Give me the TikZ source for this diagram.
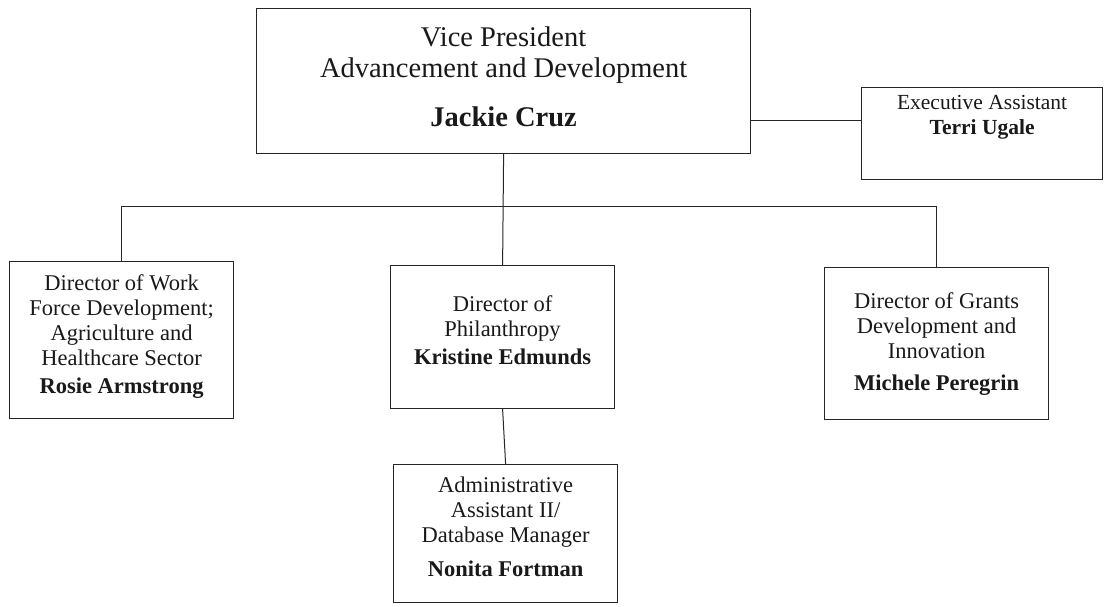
\documentclass[tikz,border=0pt]{standalone}
\usepackage{fontspec}
\setmainfont{Liberation Serif}
\begin{document}
\begin{tikzpicture}[x=1pt,y=-1pt,
  box/.style={draw=black!85, line width=1.2pt, inner sep=0pt, anchor=north west},
  txt/.style={align=center, inner sep=0pt, anchor=north, text=black!90, font=\fontsize{22.5}{25}\selectfont},
  bigtxt/.style={align=center, inner sep=0pt, anchor=north, text=black!90, font=\fontsize{28.5}{31}\selectfont},
  link/.style={draw=black!85, line width=1pt}]
\useasboundingbox (0,0) rectangle (1106,606);
% boxes
\node[box, minimum width=494pt, minimum height=145pt] (vp) at (256,8) {};
\node[box, minimum width=241pt, minimum height=92pt] (ea) at (861,87) {};
\node[box, minimum width=224pt, minimum height=157pt] (ros) at (9,261) {};
\node[box, minimum width=224pt, minimum height=143pt] (kri) at (390,265) {};
\node[box, minimum width=224pt, minimum height=152pt] (mic) at (824,267) {};
\node[box, minimum width=224pt, minimum height=138pt] (non) at (393,464) {};
% texts
\node[bigtxt] (vpt) at ([yshift=-19pt]vp.north) {Vice President\\Advancement and Development\\[18pt]\textbf{Jackie Cruz}};
\node[txt, font=\fontsize{21.5}{25}\selectfont] (eat) at ([yshift=-8pt]ea.north) {Executive Assistant\\\textbf{Terri Ugale}};
\node[txt] (rost) at ([yshift=-13pt]ros.north) {Director of Work\\Force Development;\\Agriculture and\\Healthcare Sector\\[3pt]\textbf{Rosie Armstrong}};
\node[txt] (krit) at ([yshift=-30pt]kri.north) {Director of\\Philanthropy\\[3pt]\textbf{Kristine Edmunds}};
\node[txt] (mict) at ([yshift=-25pt]mic.north) {Director of Grants\\Development and\\Innovation\\[7pt]\textbf{Michele Peregrin}};
\node[txt] (nont) at ([yshift=-13pt]non.north) {Administrative\\Assistant II/\\Database Manager\\[9pt]\textbf{Nonita Fortman}};
% connectors
\coordinate (bus) at (503,206);
\coordinate (eaj) at (861,120);
\draw[link] (vp.east |- eaj) -- (eaj);
\draw[link] (vp.south) -- (kri.north);
\draw[link] (ros.north) -- (ros.north |- bus) -- (mic.north |- bus) -- (mic.north);
\draw[link] (kri.south) -- (non.north);
\end{tikzpicture}
\end{document}
